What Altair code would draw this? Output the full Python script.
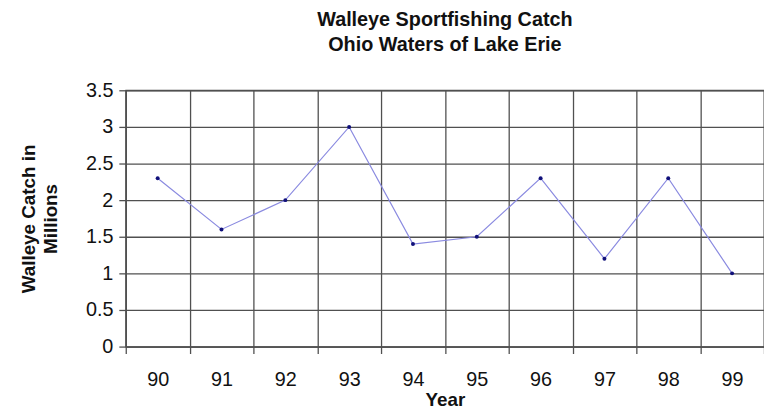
import altair as alt
import pandas as pd

years = ["90", "91", "92", "93", "94", "95", "96", "97", "98", "99"]
catch = [2.3, 1.6, 2.0, 3.0, 1.4, 1.5, 2.3, 1.2, 2.3, 1.0]

df = pd.DataFrame({"Year": years, "Catch": catch})

FONT = "Liberation Sans"
GRID = "#505050"

x = alt.X("Year:N", sort=years, title="Year",
          scale=alt.Scale(paddingInner=0, paddingOuter=0),
          axis=alt.Axis(labelAngle=0, tickBand="extent", grid=True,
                        gridColor=GRID, gridWidth=1.3,
                        tickColor=GRID, tickSize=7, tickWidth=1.3,
                        domainColor=GRID, domainWidth=1.3,
                        labelFontSize=20, labelColor="#111111",
                        labelPadding=16, titleFontSize=19, titleFontWeight="bold",
                        titleColor="#111111", titlePadding=2))
y = alt.Y("Catch:Q", title=["Walleye Catch in", "Millions"],
          scale=alt.Scale(domain=[0, 3.5], nice=False),
          axis=alt.Axis(values=[0, 0.5, 1, 1.5, 2, 2.5, 3, 3.5], format=".1~f",
                        grid=True, gridColor=GRID, gridWidth=1.3,
                        tickColor=GRID, tickSize=7, tickWidth=1.3,
                        domainColor=GRID, domainWidth=1.3,
                        labelFontSize=20, labelColor="#111111", labelPadding=6,
                        titleFontSize=19, titleFontWeight="bold",
                        titleColor="#111111", titlePadding=25, titleLineHeight=22))

line = alt.Chart(df).mark_line(color="#8a8ae0", strokeWidth=1.2).encode(x=x, y=y)
pts = alt.Chart(df).mark_point(filled=True, color="#10107a", size=16, opacity=1).encode(x=x, y=y)

chart = (line + pts).properties(
    width=645, height=259,
    title=alt.TitleParams(["Walleye Sportfishing Catch", "Ohio Waters of Lake Erie"],
                          fontSize=20, fontWeight="bold", color="#111111",
                          lineHeight=25, anchor="middle", offset=26, font=FONT),
    autosize=alt.AutoSizeParams(type="none"),
    padding={"left": 119, "top": 81, "right": 0, "bottom": 70},
).configure(font=FONT).configure_view(stroke=GRID, strokeWidth=1.3).configure_axis(
    labelFont=FONT, titleFont=FONT)

chart.save("out.html", embed_options={"renderer": "svg", "actions": False})
